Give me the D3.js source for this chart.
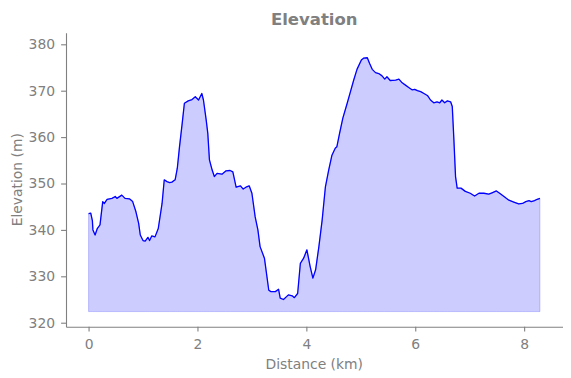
<!DOCTYPE html>
<html>
<head>
<meta charset="utf-8">
<script src="https://cdn.jsdelivr.net/npm/d3@7"></script>
<style>
    body { margin: 0; background: #fff; }
    #chart { width: 571px; height: 378px; }
    text { font-family: "DejaVu Sans", sans-serif; fill: #808080; }
</style>
</head>
<body>
<div id="chart"></div>
<script>
//Datos del perfil (km, m)
const distancias = [0.00,0.04,0.07,0.08,0.12,0.16,0.21,0.26,0.29,0.34,0.43,0.49,0.52,0.61,0.67,0.75,0.81,0.87,0.92,0.95,
    1.00,1.04,1.09,1.12,1.16,1.22,1.28,1.35,1.39,1.44,1.49,1.53,1.59,1.63,1.67,1.72,1.76,1.83,1.90,1.96,
    2.02,2.08,2.11,2.16,2.19,2.22,2.27,2.31,2.36,2.45,2.52,2.60,2.65,2.71,2.79,2.84,2.89,2.95,
    3.00,3.06,3.11,3.15,3.23,3.31,3.35,3.43,3.49,3.52,3.58,3.67,3.74,3.78,3.84,3.89,3.95,
    4.01,4.07,4.12,4.17,4.23,4.29,4.35,4.41,4.47,4.53,4.56,4.61,4.67,4.75,4.81,4.87,4.93,
    5.01,5.05,5.12,5.16,5.21,5.27,5.33,5.39,5.44,5.48,5.54,5.64,5.70,5.76,5.82,5.88,5.94,5.99,
    6.04,6.10,6.16,6.23,6.28,6.34,6.40,6.45,6.49,6.54,6.59,6.65,6.68,6.71,6.74,6.77,6.84,6.92,
    7.01,7.09,7.17,7.26,7.35,7.41,7.49,7.55,7.63,7.72,7.81,7.90,7.97,
    8.03,8.09,8.13,8.19,8.24,8.29];
const elevaciones = [343.5,343.6,342.0,340.0,338.9,340.3,341.1,346.1,345.7,346.6,346.8,347.2,346.8,347.5,346.8,346.7,346.1,343.9,341.4,338.9,
    337.7,337.6,338.4,337.7,338.7,338.5,340.3,345.7,350.8,350.4,350.2,350.3,350.8,353.3,357.9,363.0,367.3,367.8,368.1,368.7,
    368.0,369.4,368.0,363.7,360.8,355.1,352.9,351.5,352.2,352.0,352.7,352.8,352.5,349.2,349.5,348.8,349.2,349.5,
    347.9,342.8,340.0,336.4,333.9,327.0,326.7,326.7,327.2,325.3,325.0,326.0,325.8,325.4,326.3,332.8,333.9,
    335.7,332.1,329.6,331.4,336.4,342.1,349.3,352.9,356.1,357.6,357.9,360.8,364.1,367.3,369.8,372.3,374.6,
    376.6,377.0,377.1,375.9,374.6,373.9,373.7,373.2,372.5,373.0,372.2,372.3,372.5,371.7,371.2,370.7,370.2,370.3,
    370.0,369.8,369.4,368.9,368.0,367.4,367.6,367.4,368.0,367.4,367.8,367.6,366.6,359.4,351.5,349.0,349.0,348.3,
    347.9,347.3,347.9,347.9,347.7,348.0,348.4,347.9,347.2,346.4,346.0,345.6,345.7,
    346.1,346.3,346.1,346.3,346.6,346.8];
const base = 322.4;
const xTicks = [0, 2, 4, 6, 8];
const yTicks = [320, 330, 340, 350, 360, 370, 380];

const GRIS = '#808080';

let data = distancias.map(function(d, i) { return { km: d, ele: elevaciones[i] }; });

let margin = {top: 32.7, right: 8.5, bottom: 51.3, left: 66},
    width = 571 - margin.left - margin.right,
    height = 378 - margin.top - margin.bottom;

let svg = d3.select('#chart')
    .append('svg')
        .attr('width', 571)
        .attr('height', 378)
    .append('g')
        .attr('transform', 'translate(' + margin.left + ',' + margin.top + ')');

let x = d3.scaleLinear()
    .domain([-0.4145, 8.7045])
    .range([0, width]);

let y = d3.scaleLinear()
    .domain([319.14, 382.5])
    .range([height, 0]);

//Relleno
let area = d3.area()
    .x(function(d) { return x(d.km); })
    .y0(y(base))
    .y1(function(d) { return y(d.ele); });

svg.append('path')
    .datum(data)
    .attr('d', area)
    .attr('fill', 'blue')
    .attr('fill-opacity', 0.2)
    .attr('stroke', 'blue')
    .attr('stroke-opacity', 0.2)
    .attr('stroke-width', 1);

//Línea
let line = d3.line()
    .x(function(d) { return x(d.km); })
    .y(function(d) { return y(d.ele); });

svg.append('path')
    .datum(data)
    .attr('d', line)
    .attr('fill', 'none')
    .attr('stroke', 'blue')
    .attr('stroke-width', 1.3)
    .attr('stroke-linejoin', 'round');

//Ejes
let styleAxis = function(g) {
    g.selectAll('.domain').attr('stroke', GRIS).attr('stroke-width', 1.1);
    g.selectAll('.tick line').attr('stroke', GRIS).attr('stroke-width', 1.1);
    g.selectAll('.tick text').attr('fill', GRIS).style('font-size', '13.9px').style('font-family', '"DejaVu Sans", sans-serif');
};

svg.append('g')
    .attr('transform', 'translate(0,' + height + ')')
    .call(d3.axisBottom(x).tickValues(xTicks).tickSize(4.9).tickSizeOuter(0).tickPadding(8))
    .call(styleAxis);

svg.append('g')
    .call(d3.axisLeft(y).tickValues(yTicks).tickSize(4.9).tickSizeOuter(0).tickPadding(6))
    .call(styleAxis);

//Títulos
svg.append('text')
    .attr('x', width / 2)
    .attr('y', -8)
    .attr('text-anchor', 'middle')
    .style('font-size', '16.5px')
    .style('font-weight', 'bold')
    .text('Elevation');

svg.append('text')
    .attr('x', width / 2)
    .attr('y', height + 42.8)
    .attr('text-anchor', 'middle')
    .style('font-size', '13.9px')
    .text('Distance (km)');

svg.append('text')
    .attr('transform', 'translate(' + (22 - margin.left) + ',' + (height / 2) + ') rotate(-90)')
    .attr('text-anchor', 'middle')
    .style('font-size', '13.9px')
    .text('Elevation (m)');
</script>
</body>
</html>
